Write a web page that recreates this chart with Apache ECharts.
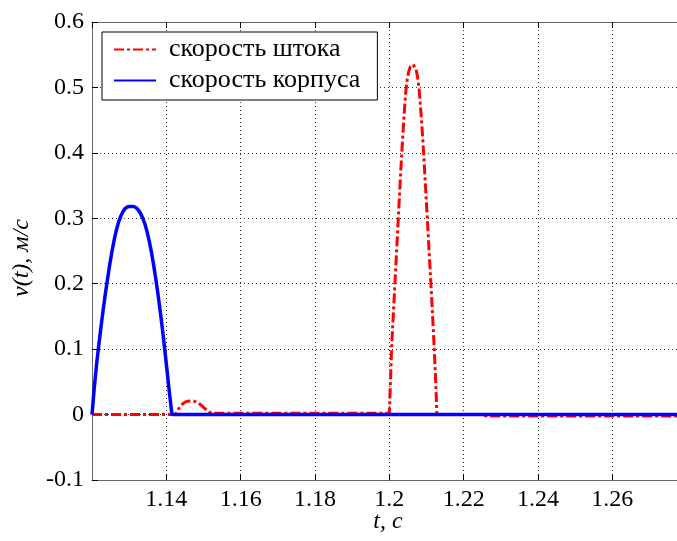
<!DOCTYPE html>
<html>
<head>
<meta charset="utf-8">
<script src="https://cdn.jsdelivr.net/npm/echarts@6/dist/echarts.min.js"></script>
<style>
  html, body { margin: 0; padding: 0; background: #fff; }
  #chart { width: 677px; height: 541px; }
</style>
</head>
<body>
<div id="chart"></div>
<script>
// Series names (legend order)
const seriesNames = ['скорость штока', 'скорость корпуса'];

// Rod velocity, m/s, against time, s
const rodT = [1.12, 1.1425, 1.1431, 1.1437, 1.1443, 1.1450, 1.1458, 1.1466, 1.1474, 1.1482, 1.1490,
  1.1498, 1.1506, 1.1514, 1.1522, 1.1600, 1.1800, 1.2000,
  1.2003, 1.2006, 1.2010, 1.2015, 1.2020, 1.2025, 1.2030, 1.2035, 1.2040, 1.2044, 1.2048, 1.2052,
  1.2056, 1.2060, 1.2064, 1.2068, 1.2072, 1.2076, 1.2080, 1.2084, 1.2088, 1.2092, 1.2096, 1.2100,
  1.2104, 1.2108, 1.2112, 1.2116, 1.2120, 1.2124, 1.2128,
  1.2250, 1.2260, 1.2774];
const rodV = [0, 0, 0.007, 0.012, 0.016, 0.019, 0.0205, 0.021, 0.0205, 0.019, 0.016,
  0.012, 0.008, 0.004, 0.002, 0.002, 0.002, 0.002,
  0.05, 0.10, 0.145, 0.20, 0.255, 0.31, 0.365, 0.415, 0.46, 0.492, 0.512, 0.524,
  0.531, 0.534, 0.535, 0.533, 0.527, 0.516, 0.498, 0.47, 0.438, 0.402, 0.362, 0.322,
  0.281, 0.240, 0.198, 0.155, 0.11, 0.06, 0,
  0, -0.002, -0.002];

// Body velocity, m/s, against time, s
const bodyT = [1.1200, 1.1206, 1.1212, 1.1218, 1.1224, 1.1230, 1.1236, 1.1242, 1.1248, 1.1254,
  1.1260, 1.1266, 1.1272, 1.1278, 1.1284, 1.1290, 1.1296, 1.1302, 1.1307,
  1.1312, 1.1318, 1.1324, 1.1330, 1.1336, 1.1342, 1.1348, 1.1354, 1.1360, 1.1366, 1.1372,
  1.1378, 1.1384, 1.1390, 1.1396, 1.1402, 1.1408, 1.1414, 1.1416, 1.2000, 1.2774];
const bodyV = [0, 0.04, 0.075, 0.105, 0.133, 0.16, 0.185, 0.208, 0.23, 0.25,
  0.268, 0.283, 0.295, 0.304, 0.311, 0.3155, 0.3175, 0.318, 0.3182,
  0.318, 0.3165, 0.313, 0.308, 0.301, 0.292, 0.280, 0.265, 0.248, 0.228, 0.206,
  0.182, 0.156, 0.128, 0.098, 0.067, 0.035, 0.005, 0, 0, 0];

// Axis ranges and tick steps
const xRange = [1.12, 1.2774];
const xStep = 0.02;
const yRange = [-0.1, 0.6];
const yStep = 0.1;

// Axis titles
const xTitle = 't, с';
const yTitle = 'v(t), м/с';

const pairs = (t, v) => t.map((x, i) => [x, v[i]]);
const serif = '"Liberation Serif", "DejaVu Serif", serif';
const fmt = v => String(Math.round(v * 100) / 100);

const chart = echarts.init(document.getElementById('chart'), null, { renderer: 'canvas' });

const dotted = { show: true, lineStyle: { type: [1, 3], color: '#333', width: 1 } };
const axisLine = { show: true, onZero: false, lineStyle: { color: '#666', width: 1 } };
const innerTick = { show: true, inside: true, length: 6, lineStyle: { color: '#000' } };

chart.setOption({
  backgroundColor: '#fff',
  animation: false,
  grid: { left: 92, top: 22, width: 586, height: 458, containLabel: false },
  legend: {
    data: seriesNames,
    orient: 'vertical',
    left: 102,
    top: 32,
    itemWidth: 42,
    itemHeight: 14,
    itemGap: 2,
    padding: [3, 17, 5, 11],
    backgroundColor: '#fff',
    borderColor: '#000',
    borderWidth: 1,
    borderRadius: 0,
    itemStyle: { opacity: 0 },
    textStyle: { fontFamily: serif, fontSize: 26, color: '#000', lineHeight: 29, padding: [0, 0, 0, 8] }
  },
  xAxis: [
    {
      type: 'value', min: xRange[0], max: xRange[1], interval: xStep,
      position: 'bottom',
      axisLine: axisLine,
      axisTick: innerTick,
      axisLabel: { fontFamily: serif, fontSize: 24, color: '#000', margin: 8,
        showMinLabel: false, showMaxLabel: false, formatter: fmt },
      splitLine: dotted
    },
    {
      type: 'value', min: xRange[0], max: xRange[1], interval: xStep,
      position: 'top',
      axisLine: axisLine,
      axisTick: innerTick,
      axisLabel: { show: false },
      splitLine: { show: false }
    }
  ],
  yAxis: {
    type: 'value', min: yRange[0], max: yRange[1], interval: yStep,
    axisLine: axisLine,
    axisTick: innerTick,
    axisLabel: { fontFamily: serif, fontSize: 24, color: '#000', margin: 8, formatter: fmt },
    splitLine: dotted
  },
  graphic: [
    {
      type: 'text', x: 388, y: 522,
      style: { text: xTitle, fill: '#000', font: 'italic 24px ' + serif,
        textAlign: 'center', textVerticalAlign: 'middle' }
    },
    {
      type: 'text', x: 22, y: 258, rotation: Math.PI / 2,
      style: { text: yTitle, fill: '#000', font: 'italic 24px ' + serif,
        textAlign: 'center', textVerticalAlign: 'middle' }
    }
  ],
  series: [
    {
      name: seriesNames[0], type: 'line', data: pairs(rodT, rodV),
      symbol: 'none', z: 2,
      lineStyle: { color: '#ff0000', width: 3, type: [10, 3, 3, 3], join: 'round' },
      itemStyle: { color: '#ff0000' }
    },
    {
      name: seriesNames[1], type: 'line', data: pairs(bodyT, bodyV),
      symbol: 'none', z: 3,
      lineStyle: { color: '#0000ff', width: 3.5, join: 'round' },
      itemStyle: { color: '#0000ff' }
    }
  ]
});
</script>
</body>
</html>
